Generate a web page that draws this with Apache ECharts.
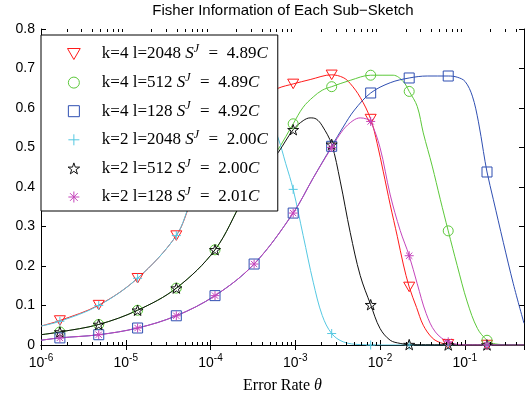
<!DOCTYPE html>
<html>
<head>
<meta charset="utf-8">
<script src="https://cdn.jsdelivr.net/npm/echarts@6.0.0/dist/echarts.min.js"></script>
<style>
  html, body { margin: 0; padding: 0; background: #fff; }
  #chart { width: 530px; height: 399px; }
</style>
</head>
<body>
<div id="chart"></div>
<script>
// error rates where the markers sit (shared by all six curves)
const markerTheta = [1.67e-6, 4.8e-6, 1.38e-5, 3.95e-5, 1.13e-4, 3.27e-4, 9.45e-4, 2.69e-3, 7.76e-3, 2.21e-2, 6.38e-2, 0.183];

// marker values
const redMarks = [0.062, 0.101, 0.169, 0.277, 0.47, 0.605, 0.661, 0.684, 0.572, 0.147, 0.002, 0];
const greenMarks = [0.033, 0.052, 0.088, 0.144, 0.241, 0.41, 0.56, 0.654, 0.683, 0.642, 0.289, 0.012];
const blueMarks = [0.018, 0.026, 0.043, 0.074, 0.125, 0.205, 0.334, 0.503, 0.638, 0.676, 0.681, 0.438];
const cyanMarks = [0.06, 0.10, 0.169, 0.277, 0.45, 0.568, 0.394, 0.029, 0, 0, 0, 0];
const blackMarks = [0.033, 0.052, 0.088, 0.144, 0.241, 0.405, 0.545, 0.508, 0.102, 0.001, 0, 0];
const magentaMarks = [0.018, 0.026, 0.043, 0.074, 0.125, 0.205, 0.334, 0.50, 0.566, 0.226, 0.008, 0];

// curve points [theta, fisher info]
const redLine = [[1e-6, 0.048], [1.67e-6, 0.062], [4.8e-6, 0.101], [1.38e-5, 0.169], [3.95e-5, 0.277], [6.07e-5, 0.368], [1.13e-4, 0.47], [1.7e-4, 0.528], [2.43e-4, 0.575], [3.27e-4, 0.605], [4.53e-4, 0.632], [6.28e-4, 0.65], [9.45e-4, 0.661], [1.5e-3, 0.672], [2.69e-3, 0.684], [3.68e-3, 0.677], [4.45e-3, 0.662], [5.84e-3, 0.627], [7.76e-3, 0.572], [9.27e-3, 0.51], [1.09e-2, 0.44], [1.32e-2, 0.355], [1.6e-2, 0.275], [1.88e-2, 0.205], [2.21e-2, 0.147], [2.7e-2, 0.095], [3.24e-2, 0.05], [4.13e-2, 0.018], [5.14e-2, 0.006], [6.38e-2, 0.002], [0.1, 0], [0.5, 0]];
const greenLine = [[1e-6, 0.026], [1.67e-6, 0.033], [4.8e-6, 0.052], [1.38e-5, 0.088], [3.95e-5, 0.144], [1.13e-4, 0.241], [2.43e-4, 0.37], [3.27e-4, 0.41], [4.53e-4, 0.452], [6.28e-4, 0.495], [9.45e-4, 0.56], [1.24e-3, 0.602], [1.63e-3, 0.628], [2.08e-3, 0.645], [2.69e-3, 0.654], [4.45e-3, 0.67], [7.76e-3, 0.683], [1.43e-2, 0.683], [1.88e-2, 0.667], [2.21e-2, 0.642], [2.75e-2, 0.604], [3.24e-2, 0.537], [4.13e-2, 0.453], [5.14e-2, 0.369], [6.38e-2, 0.289], [8.15e-2, 0.201], [0.107, 0.109], [0.141, 0.042], [0.183, 0.012], [0.217, 0.004], [0.285, 0.001], [0.5, 0]];
const blueLine = [[1e-6, 0.012], [1.67e-6, 0.018], [4.8e-6, 0.026], [1.38e-5, 0.043], [3.95e-5, 0.074], [1.13e-4, 0.125], [3.27e-4, 0.205], [9.45e-4, 0.334], [1.63e-3, 0.423], [2.69e-3, 0.503], [3.68e-3, 0.552], [5.0e-3, 0.595], [7.76e-3, 0.638], [1.32e-2, 0.664], [2.21e-2, 0.676], [3.61e-2, 0.681], [6.38e-2, 0.681], [8.15e-2, 0.678], [0.101, 0.667], [0.123, 0.63], [0.145, 0.565], [0.166, 0.49], [0.183, 0.438], [0.217, 0.369], [0.285, 0.26], [0.374, 0.155], [0.5, 0.055]];
const cyanLine = [[1e-6, 0.048], [1.67e-6, 0.06], [4.8e-6, 0.10], [1.38e-5, 0.169], [3.95e-5, 0.277], [6.07e-5, 0.368], [1.13e-4, 0.45], [1.7e-4, 0.505], [2.43e-4, 0.545], [3.27e-4, 0.568], [3.9e-4, 0.575], [4.53e-4, 0.57], [5.33e-4, 0.555], [6.28e-4, 0.524], [7.7e-4, 0.46], [9.45e-4, 0.394], [1.24e-3, 0.277], [1.63e-3, 0.159], [2.08e-3, 0.075], [2.69e-3, 0.029], [3.68e-3, 0.008], [5.84e-3, 0.001], [1e-2, 0], [0.5, 0]];
const blackLine = [[1e-6, 0.026], [1.67e-6, 0.033], [4.8e-6, 0.052], [1.38e-5, 0.088], [3.95e-5, 0.144], [1.13e-4, 0.241], [2.43e-4, 0.368], [3.27e-4, 0.405], [4.53e-4, 0.447], [6.28e-4, 0.487], [9.45e-4, 0.545], [1.24e-3, 0.568], [1.5e-3, 0.575], [1.77e-3, 0.572], [2.08e-3, 0.555], [2.69e-3, 0.508], [3.39e-3, 0.415], [4.45e-3, 0.285], [5.84e-3, 0.176], [7.76e-3, 0.102], [1.0e-2, 0.042], [1.32e-2, 0.012], [1.73e-2, 0.004], [2.21e-2, 0.001], [0.5, 0]];
const magentaLine = [[1e-6, 0.012], [1.67e-6, 0.018], [4.8e-6, 0.026], [1.38e-5, 0.043], [3.95e-5, 0.074], [1.13e-4, 0.125], [3.27e-4, 0.205], [9.45e-4, 0.334], [1.63e-3, 0.423], [2.69e-3, 0.50], [3.68e-3, 0.545], [4.8e-3, 0.568], [5.84e-3, 0.575], [7.0e-3, 0.572], [7.76e-3, 0.566], [1.0e-2, 0.5], [1.32e-2, 0.38], [1.73e-2, 0.29], [2.21e-2, 0.226], [2.75e-2, 0.155], [3.5e-2, 0.08], [4.5e-2, 0.033], [6.38e-2, 0.008], [0.107, 0], [0.5, 0]];

// legend labels
const legendNames = ['k=4 l=2048', 'k=4 l=512', 'k=4 l=128', 'k=2 l=2048', 'k=2 l=512', 'k=2 l=128'];
const sjValues = ['4.89', '4.89', '4.92', '2.00', '2.00', '2.01'];

const yTicks = [0, 0.1, 0.2, 0.3, 0.4, 0.5, 0.6, 0.7, 0.8];

// minor ticks of the log axis (2..9 in every decade)
const minorTicks = [];
for (let e = -6; e <= -1; e++) {
  for (let m = 2; m <= 9; m++) {
    const t = m * Math.pow(10, e);
    if (t < 0.5) minorTicks.push(t);
  }
}

const colors = {
  red: '#ff1a1a',
  green: '#5cc83a',
  blue: '#2f4fb2',
  cyan: '#55c8e2',
  black: '#111111',
  magenta: '#c445bb',
};

const symbols = {
  triDown: 'path://M0,0L11,0L5.5,9.5Z',
  square: 'path://M0,0L10,0L10,10L0,10Z',
  plus: 'path://M5,0L5,10M0,5L10,5',
  star: 'path://M0,-10L2.245,-3.09L9.511,-3.09L3.633,1.18L5.878,8.09L0,3.82L-5.878,8.09L-3.633,1.18L-9.511,-3.09L-2.245,-3.09Z',
  asterisk: 'path://M5,0L5,10M0,5L10,5M1.5,1.5L8.5,8.5M1.5,8.5L8.5,1.5',
};

const serif = '"Liberation Serif", "Times New Roman", serif';
const sans = '"Liberation Sans", Arial, Helvetica, sans-serif';

const curve = (name, data, color) => ({
  name: name + ' curve',
  type: 'line',
  data,
  showSymbol: false,
  symbol: 'none',
  smooth: 0.35,
  lineStyle: {color, width: 1},
  itemStyle: {color},
  silent: true,
  z: 2,
});

const markers = (name, marks, symbol, size, color) => ({
  name,
  type: 'scatter',
  data: markerTheta.map((t, i) => [t, marks[i]]),
  symbol,
  symbolSize: size,
  symbolKeepAspect: true,
  itemStyle: {color: 'rgba(0,0,0,0)', borderColor: color, borderWidth: 1, opacity: 1},
  silent: true,
  z: 3,
});

const expLabel = (v) => {
  const p = Math.log10(v);
  const r = Math.round(p);
  return Math.abs(p - r) < 1e-6 ? '{b|10}{e|' + r + '}' : '';
};

const chart = echarts.init(document.getElementById('chart'), null, {renderer: 'canvas'});

const option = {
  animation: false,
  backgroundColor: '#fff',
  title: {
    text: 'Fisher Information of Each Sub\u2212Sketch',
    left: 283,
    top: 3,
    textAlign: 'center',
    padding: 0,
    textStyle: {fontFamily: sans, fontSize: 15, fontWeight: 'normal', color: '#000'},
  },
  grid: {left: 41, right: 6, top: 29, bottom: 52.5, containLabel: false},
  xAxis: [
    {
      type: 'log',
      logBase: 10,
      min: 1e-6,
      max: 0.5,
      position: 'bottom',
      splitLine: {show: false},
      axisLine: {lineStyle: {color: '#000', width: 1}},
      axisTick: {inside: true, length: 5, lineStyle: {color: '#000'}},
      axisLabel: {
        margin: 8,
        formatter: expLabel,
        rich: {
          b: {fontFamily: sans, fontSize: 14, color: '#000'},
          e: {fontFamily: sans, fontSize: 10, color: '#000', padding: [0, 0, 10, 0]},
        },
      },
      name: '{t|Error Rate }{i|\u03b8}',
      nameLocation: 'middle',
      nameGap: 33,
      nameTextStyle: {
        rich: {
          t: {fontFamily: serif, fontSize: 16, color: '#000'},
          i: {fontFamily: serif, fontSize: 16, fontStyle: 'italic', color: '#000'},
        },
      },
    },
    {
      type: 'log',
      logBase: 10,
      min: 1e-6,
      max: 0.5,
      position: 'top',
      splitLine: {show: false},
      axisLine: {lineStyle: {color: '#000', width: 1}},
      axisTick: {inside: true, length: 5, lineStyle: {color: '#000'}},
      axisLabel: {show: false},
    },
  ],
  yAxis: [
    {
      type: 'value',
      min: yTicks[0],
      max: yTicks[yTicks.length - 1],
      interval: 0.1,
      position: 'left',
      splitLine: {show: false},
      axisLine: {show: true, lineStyle: {color: '#000', width: 1}},
      axisTick: {show: true, inside: true, length: 5, lineStyle: {color: '#000'}},
      axisLabel: {
        margin: 6,
        fontFamily: sans,
        fontSize: 14,
        color: '#000',
        formatter: (v) => (v === 0 ? '0' : v.toFixed(1)),
      },
    },
    {
      type: 'value',
      min: yTicks[0],
      max: yTicks[yTicks.length - 1],
      interval: 0.1,
      position: 'right',
      splitLine: {show: false},
      axisLine: {show: true, lineStyle: {color: '#000', width: 1}},
      axisTick: {show: true, inside: true, length: 5, lineStyle: {color: '#000'}},
      axisLabel: {show: false},
    },
  ],
  legend: {
    orient: 'vertical',
    left: 41,
    top: 35,
    padding: [8, 10, 3, 26],
    itemWidth: 46,
    itemHeight: 11,
    itemGap: 6.6,
    backgroundColor: '#fff',
    borderColor: '#000',
    borderWidth: 1,
    borderRadius: 0,
    selectedMode: false,
    data: legendNames,
    itemStyle: {borderWidth: 1},
    formatter: (name) => {
      const i = legendNames.indexOf(name);
      return '{t|' + name + ' }{i|S}{s|J}{t|\u2002=\u2002' + sjValues[i] + '}{i|C}';
    },
    textStyle: {
      fontFamily: serif,
      fontSize: 17,
      lineHeight: 18,
      color: '#000',
      rich: {
        t: {fontFamily: serif, fontSize: 17, lineHeight: 18, color: '#000'},
        i: {fontFamily: serif, fontSize: 17, lineHeight: 18, fontStyle: 'italic', color: '#000'},
        s: {fontFamily: serif, fontSize: 12, lineHeight: 8, fontStyle: 'italic', color: '#000', padding: [0, 1, 10, 0]},
      },
    },
  },
  series: [
    curve(legendNames[0], redLine, colors.red),
    curve(legendNames[1], greenLine, colors.green),
    curve(legendNames[2], blueLine, colors.blue),
    curve(legendNames[3], cyanLine, colors.cyan),
    curve(legendNames[4], blackLine, colors.black),
    curve(legendNames[5], magentaLine, colors.magenta),
    markers(legendNames[0], redMarks, symbols.triDown, 11, colors.red),
    markers(legendNames[1], greenMarks, 'circle', 10, colors.green),
    markers(legendNames[2], blueMarks, symbols.square, 10, colors.blue),
    markers(legendNames[3], cyanMarks, symbols.plus, 9, colors.cyan),
    markers(legendNames[4], blackMarks, symbols.star, 11, colors.black),
    markers(legendNames[5], magentaMarks, symbols.asterisk, 9, colors.magenta),
    {
      name: 'minor ticks',
      type: 'custom',
      data: minorTicks.map((t) => [t, 0]),
      silent: true,
      clip: false,
      z: 5,
      renderItem: (params, api) => {
        const x = Math.round(api.coord([api.value(0), 0])[0]) + 0.5;
        const cs = params.coordSys;
        const yb = Math.round(cs.y + cs.height);
        const yt = Math.round(cs.y);
        return {
          type: 'group',
          children: [
            {type: 'line', shape: {x1: x, y1: yb, x2: x, y2: yb - 3}, style: {stroke: '#000', lineWidth: 1}},
            {type: 'line', shape: {x1: x, y1: yt, x2: x, y2: yt + 3}, style: {stroke: '#000', lineWidth: 1}},
          ],
        };
      },
    },
  ],
};

chart.setOption(option);
</script>
</body>
</html>
